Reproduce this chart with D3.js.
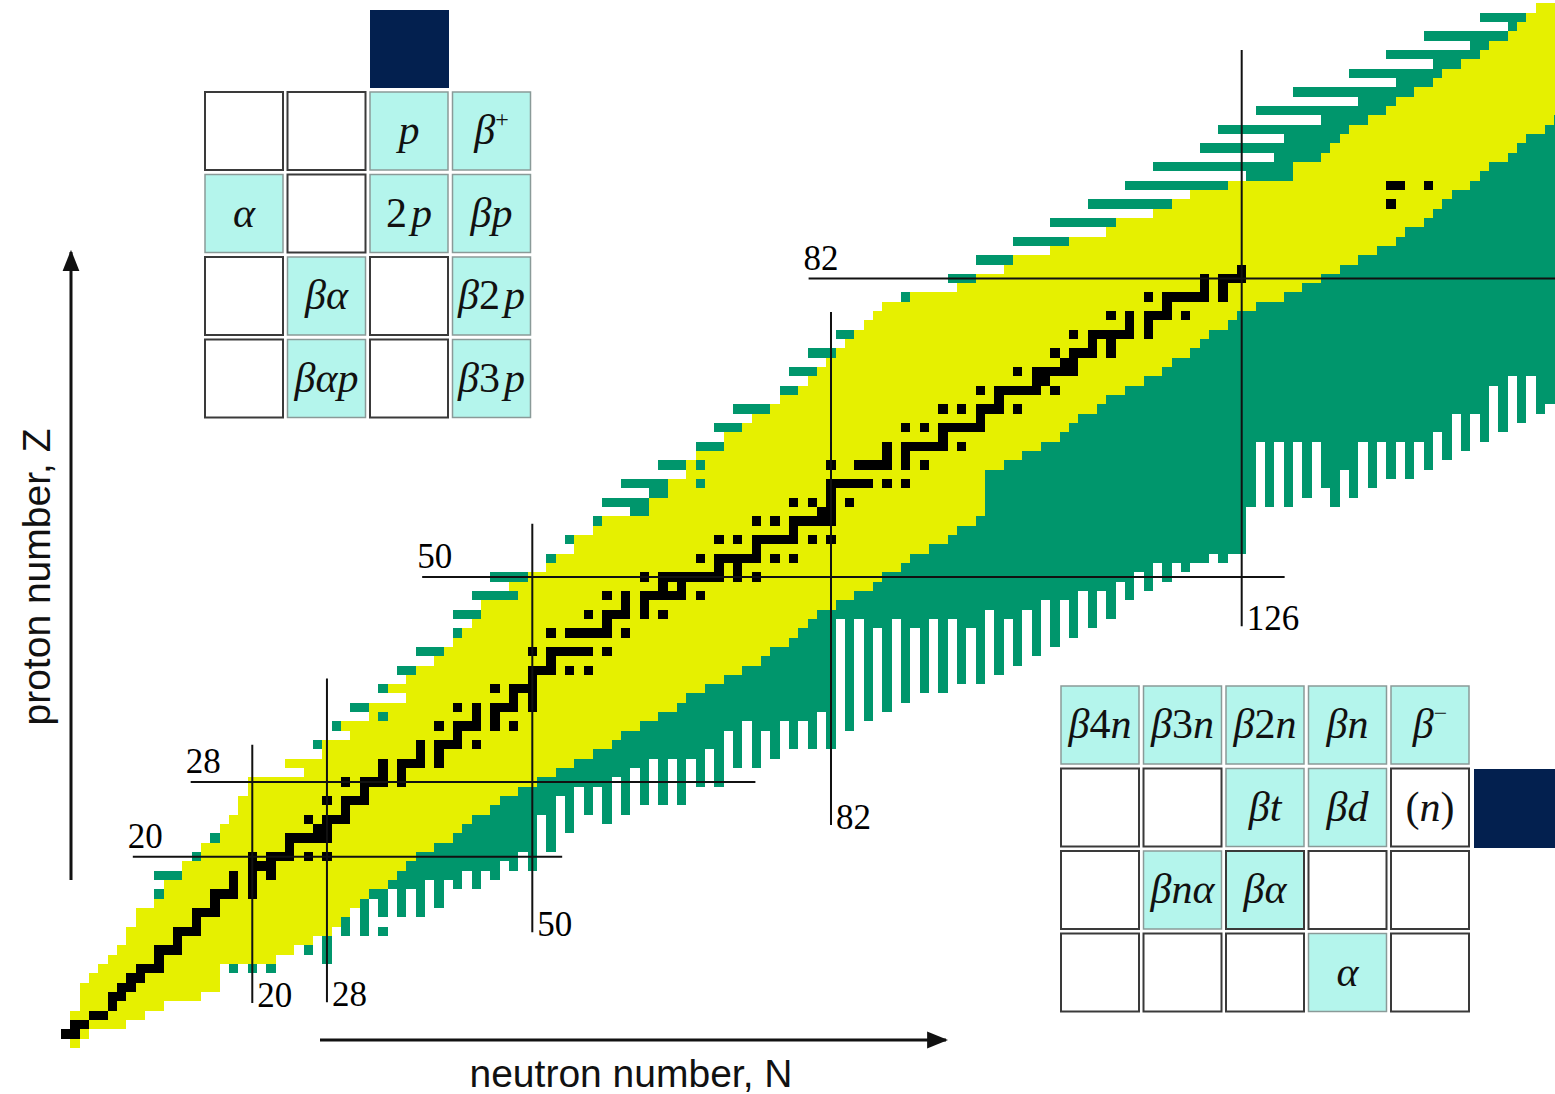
<!DOCTYPE html>
<html>
<head>
<meta charset="utf-8">
<script src="https://cdn.jsdelivr.net/npm/d3@7"></script>
<style>
  html, body { margin: 0; padding: 0; background: #fff; }
  svg { display: block; }
</style>
</head>
<body>
<svg id="chart" width="1555" height="1094"></svg>
<script>
// ---------------------------------------------------------------------------
// Chart data. Index of the Z arrays = proton number.
// ---------------------------------------------------------------------------

// Known nuclei (yellow band): first and last neutron number for each Z.
const knownFromN = [
  1, 0, 1, 1, 2, 2, 2, 3, 4, 5,
  6, 7, 7, 8, 8, 10, 11, 11, 13, 13,
  15, 15, 17, 17, 18, 19, 19, 20, 20, 26,
  24, 28, 28, 31, 30, 33, 33, 37, 35, 37,
  38, 40, 41, 42, 43, 44, 45, 45, 49, 48,
  50, 52, 53, 55, 55, 57, 58, 63, 63, 65,
  65, 67, 67, 68, 71, 71, 73, 74, 76, 77,
  79, 80, 81, 82, 83, 84, 85, 86, 87, 88,
  91, 96, 98, 101, 102, 106, 108, 112, 113, 117,
  119, 121, 125, 132, 132, 135, 136, 137, 138, 140,
  142, 143, 145, 147, 148, 150, 152, 153, 155, 156,
  157, 158
];
const knownToN = [
  1, 2, 6, 8, 10, 14, 16, 16, 16, 22,
  24, 26, 28, 29, 30, 31, 32, 34, 35, 36,
  37, 39, 41, 42, 43, 45, 46, 48, 50, 52,
  54, 56, 58, 59, 61, 63, 65, 66, 68, 70,
  72, 74, 75, 77, 78, 79, 80, 82, 84, 86,
  87, 89, 90, 92, 94, 95, 97, 98, 98, 98,
  98, 98, 100, 102, 104, 106, 107, 108, 110, 111,
  113, 115, 117, 118, 120, 121, 122, 124, 125, 127,
  130, 132, 134, 136, 138, 140, 142, 143, 145, 146,
  147, 148, 150, 151, 152, 154, 155, 156, 158, 159,
  160, 161, 162, 163, 164, 165, 166, 167, 168, 169,
  170, 171
];

// Predicted proton-rich nuclei (green dashes left of the yellow band).
const pRichZ    = [16, 18, 20, 22, 32, 34, 36, 38, 40, 42, 44, 46, 48, 50, 52, 54, 56, 57, 58, 59,
                   60, 62, 64, 66, 68, 70, 72, 74, 76, 80, 82, 84, 86, 88, 90, 92, 93, 94, 95, 96,
                   97, 98, 99, 100, 101, 102, 103, 104, 105, 106, 107, 108, 109, 110];
const pRichFrom = [10, 10, 14, 16, 27, 29, 31, 34, 36, 38, 42, 42, 44, 46, 52, 54, 57, 61, 58, 63,
                   60, 64, 68, 70, 72, 77, 78, 80, 83, 90, 95, 98, 102, 106, 110, 114, 127, 117, 130, 122,
                   131, 124, 135, 128, 139, 132, 143, 138, 147, 142, 151, 146, 155, 152];
const pRichTo   = [10, 12, 14, 16, 27, 29, 32, 34, 37, 40, 42, 44, 48, 49, 52, 54, 57, 62, 62, 64,
                   64, 66, 70, 72, 75, 78, 80, 82, 84, 90, 97, 101, 107, 112, 118, 124, 131, 131, 134, 135,
                   136, 137, 139, 141, 142, 144, 146, 147, 149, 151, 152, 154, 155, 156];

// Predicted neutron-rich nuclei: lowest Z reached by the green comb in each
// neutron column (index = N, 99 = no green in that column).
const nRichLowZ = [
  99, 99, 99, 99, 99, 99, 99, 99, 99, 99,
  99, 99, 99, 99, 99, 99, 99, 99, 8, 99,
  8, 99, 8, 99, 99, 99, 10, 99, 9, 99,
  12, 16, 12, 16, 14, 17, 14, 17, 14, 18,
  15, 18, 17, 19, 17, 19, 18, 20, 19, 21,
  19, 25, 21, 27, 23, 28, 25, 28, 24, 29,
  25, 30, 26, 31, 26, 31, 26, 31, 28, 32,
  28, 34, 30, 35, 30, 34, 31, 35, 32, 35,
  32, 36, 32, 46, 34, 46, 35, 45, 36, 46,
  37, 45, 38, 46, 38, 46, 39, 45, 39, 47,
  40, 46, 41, 47, 42, 48, 43, 48, 44, 49,
  45, 49, 46, 50, 48, 51, 49, 52, 50, 52,
  51, 52, 52, 53, 52, 53, 53, 58, 65, 58,
  65, 58, 65, 59, 65, 60, 58, 62, 59, 65,
  60, 65, 61, 65, 61, 65, 62, 66, 63, 68,
  64, 68, 65, 71, 66, 72, 67, 72, 68, 69,
  69
];

// Isolated predicted cells [N, Z].
const extraPredicted = [[34, 12], [34, 35], [68, 62], [68, 60]];

// Stable (and primordial) nuclei: neutron numbers for each Z.
const stableN = [
  [], [0, 1], [1, 2], [3, 4], [5], [5, 6], [6, 7], [7, 8], [8, 9, 10], [10],
  [10, 11, 12], [12], [12, 13, 14], [14], [14, 15, 16], [16], [16, 17, 18, 20], [18, 20], [18, 20, 22], [20, 21, 22],
  [20, 22, 23, 24, 26, 28], [24], [24, 25, 26, 27, 28], [27, 28], [26, 28, 29, 30], [30], [28, 30, 31, 32], [32], [30, 32, 33, 34, 36], [34, 36],
  [34, 36, 37, 38, 40], [38, 40], [38, 40, 41, 42, 44], [42], [40, 42, 43, 44, 46, 48], [44, 46], [42, 44, 46, 47, 48, 50], [48, 50], [46, 48, 49, 50], [50],
  [50, 51, 52, 54, 56], [52], [50, 52, 53, 54, 55, 56, 58], [], [52, 54, 55, 56, 57, 58, 60], [58], [56, 58, 59, 60, 62, 64], [60, 62], [58, 60, 62, 63, 64, 65, 66, 68], [64, 66],
  [62, 64, 65, 66, 67, 68, 69, 70, 72, 74], [70, 72], [68, 70, 71, 72, 73, 74, 76, 78], [74], [70, 72, 74, 75, 76, 77, 78, 80, 82], [78], [74, 76, 78, 79, 80, 81, 82], [81, 82], [78, 80, 82, 84], [82],
  [82, 83, 84, 85, 86, 88, 90], [], [82, 85, 86, 87, 88, 90, 92], [88, 90], [88, 90, 91, 92, 93, 94, 96], [94], [90, 92, 94, 95, 96, 97, 98], [98], [94, 96, 98, 99, 100, 102], [100],
  [98, 100, 101, 102, 103, 104, 106], [104, 105], [102, 104, 105, 106, 107, 108], [107, 108], [106, 108, 109, 110, 112], [110, 112], [108, 110, 111, 112, 113, 114, 116], [114, 116], [112, 114, 116, 117, 118, 120], [118],
  [116, 118, 119, 120, 121, 122, 124], [122, 124], [122, 124, 125, 126], [126], [], [], [], [], [], [],
  [142], [], [142, 143, 146]
];

// Magic numbers and the extent of their guide lines (in Z for N lines, in N for Z lines).
const magicN      = [20, 28, 50, 82, 126];
const magicNSpanZ = [[4.3, 32], [4.4, 39.1], [11.9, 55.7], [23.4, 78.4], [44.7, 106.5]];
const magicZ      = [20, 28, 50, 82];
const magicZSpanN = [[7.2, 53.2], [13.4, 73.9], [38.2, 130.6], [79.6, 162]];

// Decay-mode legends (fill: 1 = decay mode cell, border: 1 = dark outline).
const legendPLabels = [
  ['', '', 'p', 'β+'],
  ['α', '', '2p', 'βp'],
  ['', 'βα', '', 'β2p'],
  ['', 'βαp', '', 'β3p']
];
const legendPFilled = [
  [0, 0, 1, 1],
  [1, 0, 1, 1],
  [0, 1, 0, 1],
  [0, 1, 0, 1]
];
const legendNLabels = [
  ['β4n', 'β3n', 'β2n', 'βn', 'β−'],
  ['', '', 'βt', 'βd', '(n)'],
  ['', 'βnα', 'βα', '', ''],
  ['', '', '', 'α', '']
];
const legendNFilled = [
  [1, 1, 1, 1, 1],
  [0, 0, 1, 1, 0],
  [0, 1, 1, 0, 0],
  [0, 0, 0, 1, 0]
];
const legendNDark = [
  [0, 0, 0, 0, 0],
  [0, 0, 0, 0, 0],
  [0, 0, 1, 0, 0],
  [0, 0, 0, 0, 0]
];

// ---------------------------------------------------------------------------
// Drawing
// ---------------------------------------------------------------------------
const COLORS = { known: '#e6f000', predicted: '#00966c', stable: '#000000',
                 legendFill: '#b4f5ec', parent: '#03204f' };

const svg = d3.select('#chart');
const x = d3.scaleLinear().domain([0, 126]).range([65.6, 1241.7]);
const y = d3.scaleLinear().domain([0, 82]).range([1043.2, 278.5]);

// Builds the cell list from the arrays above.
const cells = [];
knownFromN.forEach((from, z) => {
  for (let n = from; n <= knownToN[z]; n++) cells.push({ n, z, kind: 'known' });
});
pRichZ.forEach((z, i) => {
  for (let n = pRichFrom[i]; n <= pRichTo[i]; n++) cells.push({ n, z, kind: 'predicted' });
});
nRichLowZ.forEach((lowZ, n) => {
  for (let z = lowZ; z < knownToN.length; z++) {
    if (n > knownToN[z]) cells.push({ n, z, kind: 'predicted' });
  }
});
extraPredicted.forEach(([n, z]) => cells.push({ n, z, kind: 'predicted' }));
stableN.forEach((list, z) => list.forEach(n => cells.push({ n, z, kind: 'stable' })));

svg.append('g')
  .attr('shape-rendering', 'crispEdges')
  .selectAll('rect')
  .data(cells)
  .join('rect')
  .attr('x', d => x(d.n - 0.5))
  .attr('y', d => y(d.z + 0.5))
  .attr('width', d => x(d.n + 0.5) - x(d.n - 0.5))
  .attr('height', d => y(d.z - 0.5) - y(d.z + 0.5))
  .attr('fill', d => COLORS[d.kind]);

// Magic-number guide lines and their labels.
const guides = svg.append('g').attr('stroke', '#111').attr('stroke-width', 2);
magicN.forEach((n, i) => {
  const [z0, z1] = magicNSpanZ[i];
  guides.append('line').attr('x1', x(n)).attr('x2', x(n)).attr('y1', y(z0)).attr('y2', y(z1));
  svg.append('text').attr('x', x(n) + 5).attr('y', y(z0) + 4)
    .attr('font-family', 'Liberation Serif, serif').attr('font-size', 35).text(n);
});
magicZ.forEach((z, i) => {
  const [n0, n1] = magicZSpanN[i];
  guides.append('line').attr('x1', x(n0)).attr('x2', x(n1)).attr('y1', y(z)).attr('y2', y(z));
  svg.append('text').attr('x', x(n0) - 5).attr('y', y(z) - 9)
    .attr('font-family', 'Liberation Serif, serif').attr('font-size', 35).text(z);
});

// Axis arrows and titles.
svg.append('defs').append('marker')
  .attr('id', 'arrow').attr('viewBox', '0 0 10 10').attr('refX', 9).attr('refY', 5)
  .attr('markerWidth', 7).attr('markerHeight', 7).attr('orient', 'auto')
  .append('path').attr('d', 'M0,1 L10,5 L0,9 Z').attr('fill', '#111');
svg.append('line').attr('x1', 71).attr('y1', 880).attr('x2', 71).attr('y2', 252)
  .attr('stroke', '#111').attr('stroke-width', 3).attr('marker-end', 'url(#arrow)');
svg.append('line').attr('x1', 320).attr('y1', 1040).attr('x2', 946).attr('y2', 1040)
  .attr('stroke', '#111').attr('stroke-width', 3).attr('marker-end', 'url(#arrow)');
svg.append('text').attr('transform', 'translate(50,577) rotate(-90)')
  .attr('text-anchor', 'middle').attr('font-family', 'Liberation Sans, Arial, sans-serif')
  .attr('font-size', 39).attr('fill', '#111').text('proton number, Z');
svg.append('text').attr('x', 631).attr('y', 1087)
  .attr('text-anchor', 'middle').attr('font-family', 'Liberation Sans, Arial, sans-serif')
  .attr('font-size', 39).attr('fill', '#111').text('neutron number, N');

// Legend grids.
function drawLabel(g, label, cx, cy) {
  const t = g.append('text').attr('x', cx).attr('y', cy + 13).attr('text-anchor', 'middle')
    .attr('font-family', 'Liberation Serif, serif').attr('font-size', 42).attr('fill', '#111');
  let prevDigit = false;
  for (const ch of label) {
    if (ch === '+' || ch === '−') {
      t.append('tspan').attr('font-size', 24).attr('dy', -17).text(ch);
    } else {
      const upright = /[0-9()]/.test(ch);
      t.append('tspan').attr('font-style', upright ? 'normal' : 'italic')
        .attr('dx', prevDigit && ch === 'p' ? 4 : 0).text(ch);
      prevDigit = /[0-9]/.test(ch);
    }
  }
}
function drawLegend(labels, filled, dark, x0, y0, pitch, size) {
  const g = svg.append('g');
  labels.forEach((row, r) => row.forEach((label, c) => {
    const cx = x0 + c * pitch, cy = y0 + r * pitch;
    const isDark = dark && dark[r][c];
    g.append('rect').attr('x', cx).attr('y', cy).attr('width', size).attr('height', size)
      .attr('fill', filled[r][c] ? COLORS.legendFill : '#fff')
      .attr('stroke', filled[r][c] && !isDark ? '#8a9a98' : '#3a3a3a')
      .attr('stroke-width', filled[r][c] && !isDark ? 1.5 : 2);
    if (label) drawLabel(g, label, cx + size / 2, cy + size / 2);
  }));
  return g;
}
drawLegend(legendPLabels, legendPFilled, null, 205, 92, 82.5, 78);
svg.append('rect').attr('x', 370).attr('y', 10).attr('width', 79).attr('height', 78).attr('fill', COLORS.parent);
drawLegend(legendNLabels, legendNFilled, legendNDark, 1061, 686, 82.5, 78);
svg.append('rect').attr('x', 1474).attr('y', 769).attr('width', 81).attr('height', 79).attr('fill', COLORS.parent);
</script>
</body>
</html>
